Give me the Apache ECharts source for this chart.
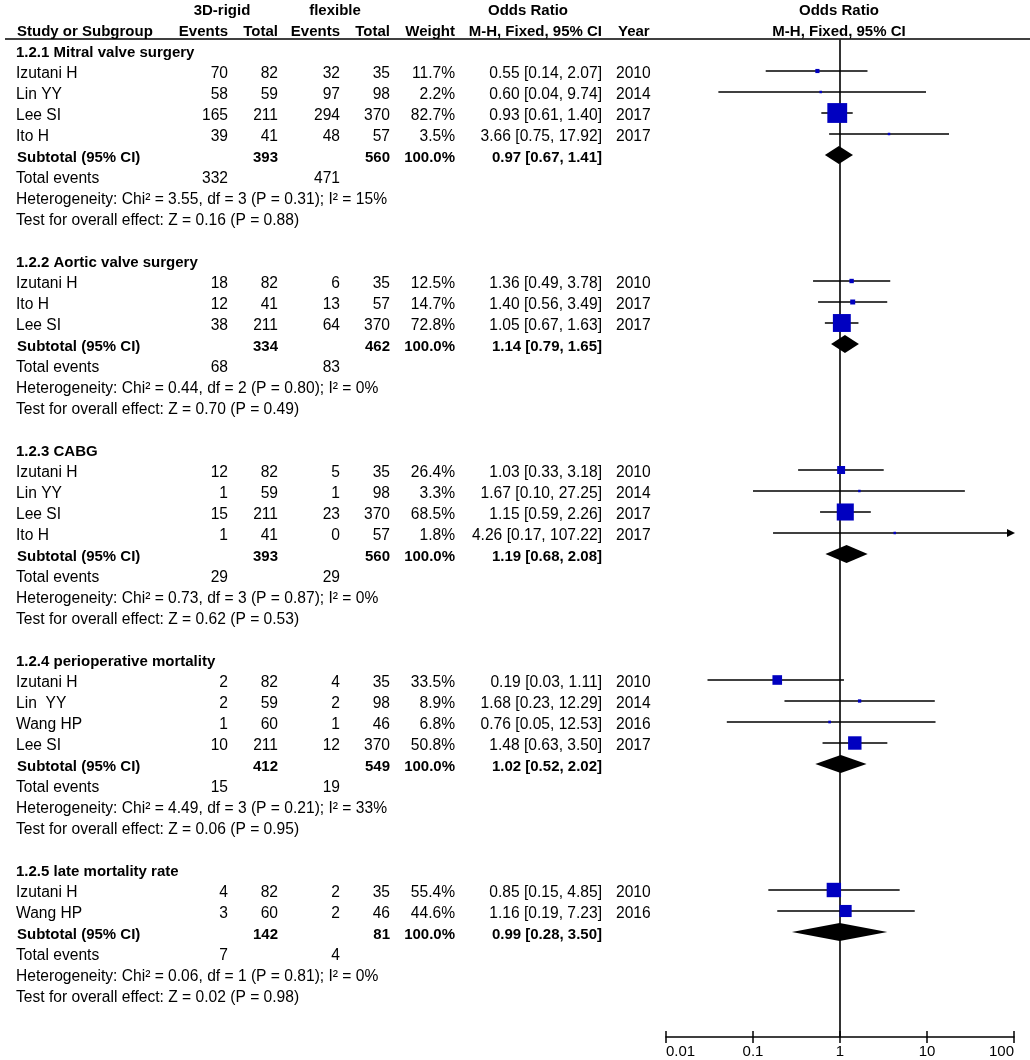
<!DOCTYPE html>
<html><head><meta charset="utf-8">
<script src="https://cdn.jsdelivr.net/npm/echarts@6/dist/echarts.min.js"></script>
<style>html,body{margin:0;padding:0;background:#fff}#c{width:1030px;height:1060px}</style>
</head><body><div id="c"></div>
<script>
// ---------------- data ----------------
const groupTitles = ['1.2.1 Mitral valve surgery', '1.2.2 Aortic valve surgery', '1.2.3 CABG', '1.2.4 perioperative mortality', '1.2.5 late mortality rate'];
const studyGroup = [0,0,0,0, 1,1,1, 2,2,2,2, 3,3,3,3, 4,4];
const studyNames = ['Izutani H','Lin YY','Lee SI','Ito H', 'Izutani H','Ito H','Lee SI', 'Izutani H','Lin YY','Lee SI','Ito H', 'Izutani H','Lin  YY','Wang HP','Lee SI', 'Izutani H','Wang HP'];
const eventsRigid = [70,58,165,39, 18,12,38, 12,1,15,1, 2,2,1,10, 4,3];
const totalRigid  = [82,59,211,41, 82,41,211, 82,59,211,41, 82,59,60,211, 82,60];
const eventsFlex  = [32,97,294,48, 6,13,64, 5,1,23,0, 4,2,1,12, 2,2];
const totalFlex   = [35,98,370,57, 35,57,370, 35,98,370,57, 35,98,46,370, 35,46];
const weights     = [11.7,2.2,82.7,3.5, 12.5,14.7,72.8, 26.4,3.3,68.5,1.8, 33.5,8.9,6.8,50.8, 55.4,44.6];
const oddsRatio   = [0.55,0.60,0.93,3.66, 1.36,1.40,1.05, 1.03,1.67,1.15,4.26, 0.19,1.68,0.76,1.48, 0.85,1.16];
const ciLower     = [0.14,0.04,0.61,0.75, 0.49,0.56,0.67, 0.33,0.10,0.59,0.17, 0.03,0.23,0.05,0.63, 0.15,0.19];
const ciUpper     = [2.07,9.74,1.40,17.92, 3.78,3.49,1.63, 3.18,27.25,2.26,107.22, 1.11,12.29,12.53,3.50, 4.85,7.23];
const years       = [2010,2014,2017,2017, 2010,2017,2017, 2010,2014,2017,2017, 2010,2014,2016,2017, 2010,2016];

const subTotalRigid = [393,334,393,412,142];
const subTotalFlex  = [560,462,560,549,81];
const subWeight     = [100.0,100.0,100.0,100.0,100.0];
const subOR         = [0.97,1.14,1.19,1.02,0.99];
const subLower      = [0.67,0.79,0.68,0.52,0.28];
const subUpper      = [1.41,1.65,2.08,2.02,3.50];
const totalEventsRigid = [332,68,29,15,7];
const totalEventsFlex  = [471,83,29,19,4];
const heterogeneity = [
  'Heterogeneity: Chi\u00B2 = 3.55, df = 3 (P = 0.31); I\u00B2 = 15%',
  'Heterogeneity: Chi\u00B2 = 0.44, df = 2 (P = 0.80); I\u00B2 = 0%',
  'Heterogeneity: Chi\u00B2 = 0.73, df = 3 (P = 0.87); I\u00B2 = 0%',
  'Heterogeneity: Chi\u00B2 = 4.49, df = 3 (P = 0.21); I\u00B2 = 33%',
  'Heterogeneity: Chi\u00B2 = 0.06, df = 1 (P = 0.81); I\u00B2 = 0%'
];
const overallEffect = [
  'Test for overall effect: Z = 0.16 (P = 0.88)',
  'Test for overall effect: Z = 0.70 (P = 0.49)',
  'Test for overall effect: Z = 0.62 (P = 0.53)',
  'Test for overall effect: Z = 0.06 (P = 0.95)',
  'Test for overall effect: Z = 0.02 (P = 0.98)'
];
const tickValues = [0.01, 0.1, 1, 10, 100];
const tickLabels = ['0.01', '0.1', '1', '10', '100'];
const headerTop = ['3D-rigid', 'flexible', 'Odds Ratio', 'Odds Ratio'];
const headerBottom = ['Study or Subgroup', 'Events', 'Total', 'Events', 'Total', 'Weight', 'M-H, Fixed, 95% CI', 'Year', 'M-H, Fixed, 95% CI'];

// ---------------- layout ----------------
const FONT = '"Liberation Sans", Arial, sans-serif';
const FS_BOLD = 15;
const FS_PLAIN = 15.6;
const COL = { name: 16, evR: 228, totR: 278, evF: 340, totF: 390, w: 455, or: 602, year: 616 };
const ROW_MIN = 0.5, ROW_MAX = 48;

const texts = [];
function addText(x, row, text, align, bold) { texts.push({ x, row, text: String(text), align, bold: !!bold }); }

// headers
addText(222, -1, headerTop[0], 'center', true);
addText(335, -1, headerTop[1], 'center', true);
addText(528, -1, headerTop[2], 'center', true);
addText(839, -1, headerTop[3], 'center', true);
addText(17, 0, headerBottom[0], 'left', true);
addText(COL.evR, 0, headerBottom[1], 'right', true);
addText(COL.totR, 0, headerBottom[2], 'right', true);
addText(COL.evF, 0, headerBottom[3], 'right', true);
addText(COL.totF, 0, headerBottom[4], 'right', true);
addText(COL.w, 0, headerBottom[5], 'right', true);
addText(COL.or, 0, headerBottom[6], 'right', true);
addText(618, 0, headerBottom[7], 'left', true);
addText(839, 0, headerBottom[8], 'center', true);

const fmtCI = (o, l, h) => o.toFixed(2) + ' [' + l.toFixed(2) + ', ' + h.toFixed(2) + ']';
const studyRow = [];
const subRow = [];
let row = 1;
groupTitles.forEach((title, g) => {
  addText(COL.name, row, title, 'left', true);
  row++;
  studyGroup.forEach((sg, i) => {
    if (sg !== g) return;
    studyRow[i] = row;
    addText(COL.name, row, studyNames[i], 'left');
    addText(COL.evR, row, eventsRigid[i], 'right');
    addText(COL.totR, row, totalRigid[i], 'right');
    addText(COL.evF, row, eventsFlex[i], 'right');
    addText(COL.totF, row, totalFlex[i], 'right');
    addText(COL.w, row, weights[i].toFixed(1) + '%', 'right');
    addText(COL.or, row, fmtCI(oddsRatio[i], ciLower[i], ciUpper[i]), 'right');
    addText(COL.year, row, years[i], 'left');
    row++;
  });
  subRow[g] = row;
  addText(COL.name + 1, row, 'Subtotal (95% CI)', 'left', true);
  addText(COL.totR, row, subTotalRigid[g], 'right', true);
  addText(COL.totF, row, subTotalFlex[g], 'right', true);
  addText(COL.w, row, subWeight[g].toFixed(1) + '%', 'right', true);
  addText(COL.or, row, fmtCI(subOR[g], subLower[g], subUpper[g]), 'right', true);
  row++;
  addText(COL.name, row, 'Total events', 'left');
  addText(COL.evR, row, totalEventsRigid[g], 'right');
  addText(COL.evF, row, totalEventsFlex[g], 'right');
  row++;
  addText(COL.name, row, heterogeneity[g], 'left');
  row++;
  addText(COL.name, row, overallEffect[g], 'left');
  row += 2;
});

const squareSize = w => Math.max(2.5, 0.58 * Math.pow(w, 0.8));

const chart = echarts.init(document.getElementById('c'), null, { renderer: 'canvas' });
chart.setOption({
  animation: false,
  backgroundColor: '#ffffff',
  grid: [
    { left: 666, width: 348, top: 39.5, height: 997.5 },
    { left: 0, width: 1030, top: 39.5, height: 997.5 }
  ],
  xAxis: [
    {
      gridIndex: 0, type: 'log', logBase: 10, min: 0.01, max: 100, splitNumber: 4,
      axisLine: { show: true, lineStyle: { color: '#000', width: 1.5 } },
      axisTick: { show: false },
      splitLine: { show: false },
      axisLabel: {
        color: '#000', fontSize: 15, fontFamily: FONT, margin: 7,
        alignMinLabel: 'left', alignMaxLabel: 'right',
        formatter: v => { const k = Math.round(Math.log10(v)) + 2; return tickLabels[k] !== undefined ? tickLabels[k] : ''; }
      }
    },
    { gridIndex: 1, type: 'value', min: 0, max: 1030, show: false }
  ],
  yAxis: [
    { gridIndex: 0, type: 'value', inverse: true, min: ROW_MIN, max: ROW_MAX, show: false },
    { gridIndex: 1, type: 'value', inverse: true, min: ROW_MIN, max: ROW_MAX, show: false }
  ],
  series: [
    // header rule
    {
      type: 'custom', xAxisIndex: 1, yAxisIndex: 1, z: 1, silent: true,
      data: [[5, ROW_MIN]],
      renderItem: (params, api) => {
        const a = api.coord([5, ROW_MIN]); const b = api.coord([1030, ROW_MIN]);
        return { type: 'line', shape: { x1: a[0], y1: a[1] - 0.5, x2: b[0], y2: b[1] - 0.5 }, style: { stroke: '#000', lineWidth: 1.6 } };
      }
    },
    // null line at OR = 1
    {
      type: 'custom', xAxisIndex: 0, yAxisIndex: 0, z: 1, silent: true,
      data: [[1, ROW_MIN]],
      renderItem: (params, api) => {
        const a = api.coord([1, ROW_MIN]); const b = api.coord([1, ROW_MAX]);
        return { type: 'line', shape: { x1: a[0], y1: a[1], x2: b[0], y2: b[1] }, style: { stroke: '#000', lineWidth: 1.6 } };
      }
    },
    // axis ticks
    {
      type: 'custom', xAxisIndex: 0, yAxisIndex: 0, z: 2, silent: true,
      data: tickValues.map(v => [v, ROW_MAX]),
      renderItem: (params, api) => {
        const p = api.coord([api.value(0), ROW_MAX]);
        return { type: 'line', shape: { x1: p[0], y1: p[1] - 6, x2: p[0], y2: p[1] + 6 }, style: { stroke: '#000', lineWidth: 1.5 } };
      }
    },
    // study CIs and squares
    {
      type: 'custom', xAxisIndex: 0, yAxisIndex: 0, z: 3, silent: true,
      data: oddsRatio.map((o, i) => [o, studyRow[i]]),
      renderItem: (params, api) => {
        const i = params.dataIndex;
        const r = studyRow[i];
        const lo = Math.max(ciLower[i], 0.01), hi = Math.min(ciUpper[i], 100);
        const pL = api.coord([lo, r]), pR = api.coord([hi, r]), pC = api.coord([oddsRatio[i], r]);
        const children = [];
        const arrow = ciUpper[i] > 100;
        children.push({ type: 'line', shape: { x1: pL[0], y1: pL[1], x2: arrow ? pR[0] - 4 : pR[0], y2: pR[1] }, style: { stroke: '#000', lineWidth: 1.5 } });
        if (arrow) {
          children.push({ type: 'polygon', shape: { points: [[pR[0] + 1, pR[1]], [pR[0] - 7, pR[1] - 4], [pR[0] - 7, pR[1] + 4]] }, style: { fill: '#000' } });
        }
        const s = squareSize(weights[i]);
        children.push({ type: 'rect', shape: { x: pC[0] - s / 2, y: pC[1] - s / 2, width: s, height: s }, style: { fill: '#0000c0' } });
        return { type: 'group', children };
      }
    },
    // subtotal diamonds
    {
      type: 'custom', xAxisIndex: 0, yAxisIndex: 0, z: 3, silent: true,
      data: subOR.map((o, g) => [o, subRow[g]]),
      renderItem: (params, api) => {
        const g = params.dataIndex;
        const r = subRow[g];
        const pL = api.coord([subLower[g], r]), pR = api.coord([subUpper[g], r]), pC = api.coord([subOR[g], r]);
        return { type: 'polygon', shape: { points: [[pL[0], pL[1]], [pC[0], pC[1] - 9], [pR[0], pR[1]], [pC[0], pC[1] + 9]] }, style: { fill: '#000' } };
      }
    },
    // table text
    {
      type: 'custom', xAxisIndex: 1, yAxisIndex: 1, z: 4, silent: true,
      data: texts.map(t => [t.x, t.row]),
      renderItem: (params, api) => {
        const t = texts[params.dataIndex];
        const p = api.coord([t.x, t.row]);
        return {
          type: 'text', x: p[0], y: p[1] + 3,
          style: { text: t.text, fill: '#000', font: (t.bold ? 'bold ' + FS_BOLD : FS_PLAIN) + 'px ' + FONT, align: t.align, verticalAlign: 'middle' }
        };
      }
    }
  ]
});
</script>
</body></html>
